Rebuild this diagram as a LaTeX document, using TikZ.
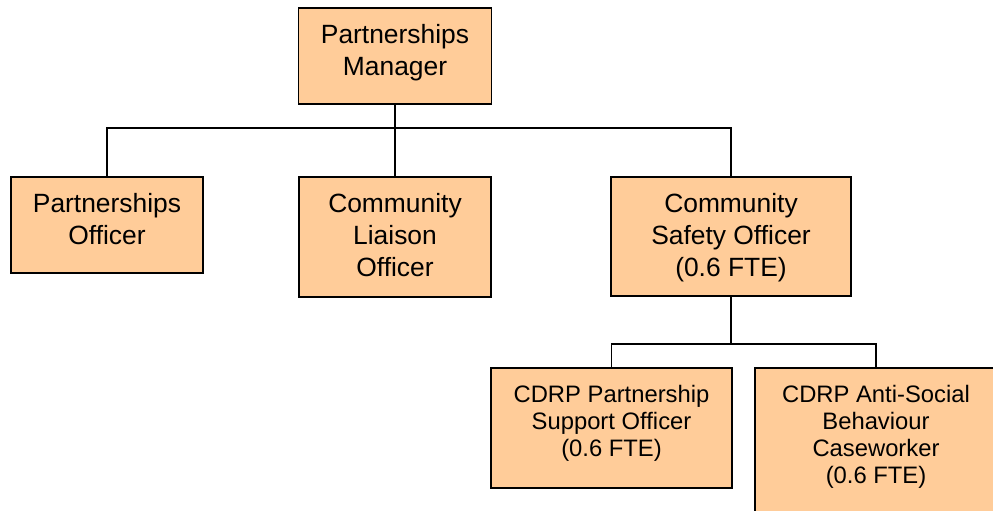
\documentclass[tikz,border=0pt]{standalone}
\usepackage{fontspec}
\setmainfont{Liberation Sans}
\definecolor{peach}{RGB}{255,204,153}
\tikzset{
  box/.style={draw=black, line width=1.6pt, fill=peach, rectangle, inner sep=0pt},
  bigtxt/.style={anchor=north, inner sep=0pt, align=center, font=\fontsize{26.4}{32}\selectfont},
  smalltxt/.style={anchor=north, inner sep=0pt, align=center, font=\fontsize{23.8}{27}\selectfont},
  conn/.style={draw=black, line width=1.4pt}
}
\begin{document}
\begin{tikzpicture}[x=1pt,y=-1pt]
\useasboundingbox (0,0) rectangle (993,511);
% boxes
\node[box, minimum width=193pt, minimum height=96pt] (mgr) at (395,56) {};
\node[box, minimum width=192pt, minimum height=96pt] (po) at (107,225) {};
\node[box, minimum width=192pt, minimum height=120pt] (clo) at (395,237) {};
\node[box, minimum width=240pt, minimum height=119pt] (cso) at (731,236.5) {};
\node[box, minimum width=241pt, minimum height=120pt] (pso) at (611.5,428) {};
\node[box, minimum width=242pt, minimum height=160pt] (asb) at (876,448) {};
% texts
\node[bigtxt] (mgrt) at ([yshift=-17pt]mgr.north) {Partnerships\\Manager};
\node[bigtxt] (pot) at ([yshift=-17pt]po.north) {Partnerships\\Officer};
\node[bigtxt] (clot) at ([yshift=-17pt]clo.north) {Community\\Liaison\\Officer};
\node[bigtxt] (csot) at ([yshift=-17pt]cso.north) {Community\\Safety Officer\\(0.6 FTE)};
\node[smalltxt] (psot) at ([yshift=-18pt]pso.north) {CDRP Partnership\\Support Officer\\(0.6 FTE)};
\node[smalltxt] (asbt) at ([yshift=-18pt]asb.north) {CDRP Anti-Social\\Behaviour\\Caseworker\\(0.6 FTE)};
% connectors
\coordinate (b1) at (395,128);
\coordinate (b2) at (731,344);
\draw[conn] (mgr.south) -- (b1);
\draw[conn] (po.north) |- (b1) -| (cso.north);
\draw[conn] (b1) -- (clo.north);
\draw[conn] (cso.south) -- (b2);
\draw[conn] (pso.north) |- (b2) -| (asb.north);
\end{tikzpicture}
\end{document}
